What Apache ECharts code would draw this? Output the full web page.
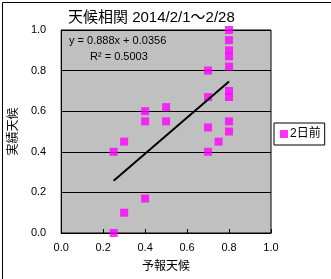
<!DOCTYPE html>
<html><head><meta charset="utf-8">
<script src="https://cdn.jsdelivr.net/npm/echarts@6/dist/echarts.min.js"></script>
<style>html,body{margin:0;padding:0;background:#fff}#c{width:331px;height:279px}</style>
</head><body><div id="c"></div>
<script>
var titleText = '天候相関 2014/2/1～2/28';
var seriesName = '2日前';
var xName = '予報天候';
var yName = '実績天候';
var forecastX = [0.25,0.25,0.3,0.3,0.4,0.4,0.4,0.5,0.5,0.7,0.7,0.7,0.7,0.75,0.8,0.8,0.8,0.8,0.8,0.8,0.8,0.8,0.8];
var actualY   = [0.0,0.40,0.45,0.10,0.17,0.60,0.55,0.62,0.55,0.80,0.67,0.52,0.40,0.45,1.0,0.95,0.90,0.87,0.82,0.70,0.67,0.55,0.50];
var trendSlope = 0.888;
var trendIntercept = 0.0356;
var trendR2 = 0.5003;
var axisTicks = [0,0.2,0.4,0.6,0.8,1.0];

var font = '"Liberation Sans", "Noto Sans CJK JP", sans-serif';
var pts = forecastX.map(function(x,i){return [x, actualY[i]];});
var xmin = Math.min.apply(null, forecastX), xmax = Math.max.apply(null, forecastX);
var trend = [[xmin, trendSlope*xmin+trendIntercept],[xmax, trendSlope*xmax+trendIntercept]];

var chart = echarts.init(document.getElementById('c'));
var axisCommon = {
  type:'value', min:axisTicks[0], max:axisTicks[axisTicks.length-1], interval:0.2,
  axisLine:{show:true, lineStyle:{color:'#000', width:1}},
  axisTick:{show:true, inside:true, length:4, lineStyle:{color:'#000'}},
  axisLabel:{color:'#000', fontSize:11, fontFamily:font, formatter:function(v){return v.toFixed(1);}},
  nameTextStyle:{color:'#000', fontSize:12, fontFamily:font}
};
chart.setOption({
  backgroundColor:'#fff',
  animation:false,
  title:{text:titleText, left:63, top:5, textStyle:{fontSize:15, fontWeight:'normal', color:'#000', fontFamily:font}},
  grid:{left:58, top:30, width:213, height:203, show:true, backgroundColor:'#c0c0c0', borderColor:'#000', borderWidth:1},
  legend:{data:[{name:seriesName, icon:'rect'}], left:274, top:123, orient:'vertical', itemWidth:8, itemHeight:8, itemGap:2,
    padding:[5,4,5,6], backgroundColor:'#fff', borderColor:'#000', borderWidth:1,
    textStyle:{color:'#000', fontSize:12, fontFamily:font, padding:[0,0,0,-3]}},
  xAxis:Object.assign({}, axisCommon, {name:xName, nameLocation:'middle', nameGap:28, splitLine:{show:false},
    axisLabel:Object.assign({}, axisCommon.axisLabel, {margin:9})}),
  yAxis:Object.assign({}, axisCommon, {name:yName, nameLocation:'middle', nameGap:38, nameRotate:90,
    splitLine:{show:true, lineStyle:{color:'#000', width:1}},
    axisLabel:Object.assign({}, axisCommon.axisLabel, {margin:15})}),
  series:[
    {name:seriesName, type:'scatter', data:pts, symbol:'rect', symbolSize:8, itemStyle:{color:'#ff00ff'}},
    {name:'trend', type:'line', data:trend, symbol:'none', lineStyle:{color:'#000', width:2}, silent:true}
  ],
  graphic:[
    {type:'rect', left:0, top:0, shape:{x:0.5,y:0.5,width:330,height:278}, style:{fill:'none', stroke:'#000', lineWidth:1}, silent:true},
    {type:'text', left:69, top:35, style:{text:'y = ' + trendSlope + 'x + ' + trendIntercept, fontSize:11, fontFamily:font, fill:'#000'}},
    {type:'text', left:90, top:51, style:{text:'R² = ' + trendR2, fontSize:11, fontFamily:font, fill:'#000'}}
  ]
});
</script></body></html>
